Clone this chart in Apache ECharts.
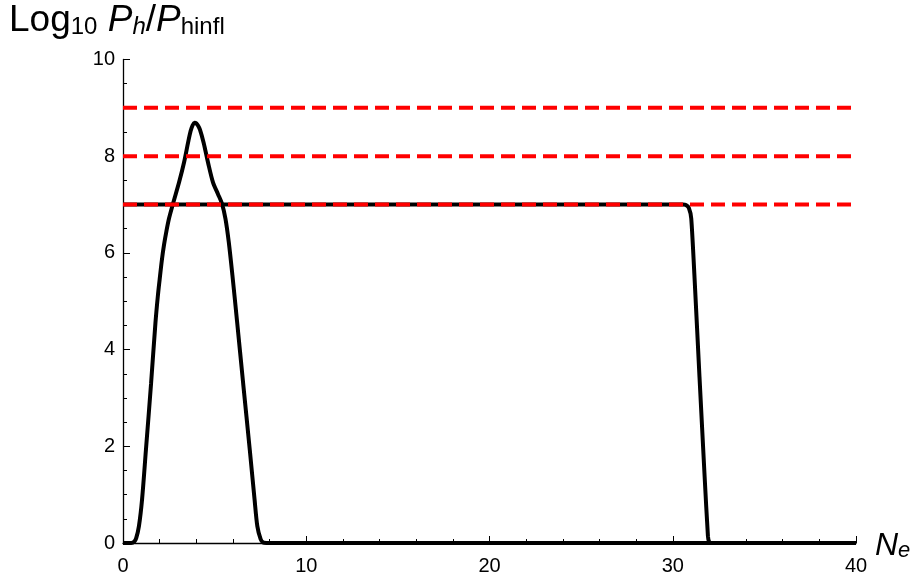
<!DOCTYPE html>
<html><head><meta charset="utf-8">
<script src="https://cdn.jsdelivr.net/npm/echarts@6/dist/echarts.min.js"></script>
<style>html,body{margin:0;padding:0;background:#fff}#c{width:917px;height:576px}</style>
</head><body><div id="c"></div>
<script>
// Bump curve (N_e, log10 Ph/Phinfl)
const bumpX = [0,0.45,0.62,0.72,0.87,1.04,1.25,1.53,1.77,1.9,2.0,2.12,2.24,2.37,2.51,2.73,3.06,3.33,3.55,3.69,3.8,3.9,4.0,4.1,4.2,4.4,4.64,4.91,5.18,5.4,5.59,5.77,5.97,6.22,6.56,6.92,7.18,7.33,7.51,7.65,7.82,40];
const bumpY = [0,0,0.03,0.1,0.35,0.9,1.92,3.29,4.55,5.1,5.45,5.85,6.17,6.45,6.71,7.02,7.46,7.87,8.28,8.52,8.64,8.69,8.68,8.63,8.55,8.28,7.87,7.46,7.22,7.02,6.71,6.23,5.54,4.6,3.29,1.92,0.9,0.35,0.08,0.01,0,0];
// Plateau curve
const plateauX = [0,30.55,30.72,30.88,31.01,31.19,31.46,31.74,31.92,31.98,32.08,40];
const plateauY = [7,7,6.99,6.93,6.71,5.48,3.43,1.37,0.14,0.03,0,0];
// Reference levels (red dashed)
const refLevels = [7,8,9];
const xRange = [0,40];
const yRange = [0,10];

const zip = (xs, ys) => xs.map((x,i)=>[x, ys[i]]);
const font = 'Liberation Sans, Arial, sans-serif';

const series = [
  {type:'line', data: zip(plateauX, plateauY), showSymbol:false, smooth:0.2,
   lineStyle:{color:'#000', width:4}, z:2},
  {type:'line', data: zip(bumpX, bumpY), showSymbol:false, smooth:0.3,
   lineStyle:{color:'#000', width:4}, z:2}
];
refLevels.forEach(v => series.push({
  type:'line', data: xRange.map(x=>[x, v]), showSymbol:false,
  lineStyle:{color:'#ff0000', width:4, type:[14,7]}, z:3
}));

const chart = echarts.init(document.getElementById('c'), null, {renderer:'canvas'});
chart.setOption({
  animation:false,
  backgroundColor:'#fff',
  grid:{left:123, right:61, top:59.5, bottom:29, containLabel:false},
  xAxis:{type:'value', min:xRange[0], max:xRange[1], interval:10,
    axisLine:{show:true, onZero:false, lineStyle:{color:'#000', width:1.3}},
    axisTick:{show:true, inside:true, length:7, lineStyle:{color:'#000', width:1}},
    minorTick:{show:true, splitNumber:5, length:4, lineStyle:{color:'#000', width:1}},
    splitLine:{show:false},
    axisLabel:{color:'#000', fontFamily:font, fontSize:20, margin:13}
  },
  yAxis:{type:'value', min:yRange[0], max:yRange[1], interval:2,
    axisLine:{show:true, onZero:false, lineStyle:{color:'#000', width:1.3}},
    axisTick:{show:true, inside:true, length:7, lineStyle:{color:'#000', width:1}},
    minorTick:{show:true, splitNumber:4, length:4, lineStyle:{color:'#000', width:1}},
    splitLine:{show:false},
    axisLabel:{color:'#000', fontFamily:font, fontSize:20, margin:8}
  },
  graphic:[
    {type:'text', left:9, top:2, z:10, style:{
      text:'{a|Log}{s|10}{a| }{i|P}{si|h}{a|/}{i|P}{s|hinfl}',
      rich:{
        a:{fontFamily:font, fontSize:37, lineHeight:42, fill:'#000', verticalAlign:'bottom'},
        i:{fontFamily:font, fontSize:37, fontStyle:'italic', lineHeight:42, fill:'#000', verticalAlign:'bottom'},
        s:{fontFamily:font, fontSize:24, lineHeight:24, fill:'#000', verticalAlign:'bottom'},
        si:{fontFamily:font, fontSize:24, fontStyle:'italic', lineHeight:24, fill:'#000', verticalAlign:'bottom'}
      }
    }},
    {type:'text', left:875, top:530, z:10, style:{
      text:'{i|N}{si|e}',
      rich:{
        i:{fontFamily:font, fontSize:32, fontStyle:'italic', lineHeight:36, fill:'#000', verticalAlign:'bottom'},
        si:{fontFamily:font, fontSize:22, fontStyle:'italic', lineHeight:22, fill:'#000', verticalAlign:'bottom'}
      }
    }}
  ],
  series: series
});
</script></body></html>
